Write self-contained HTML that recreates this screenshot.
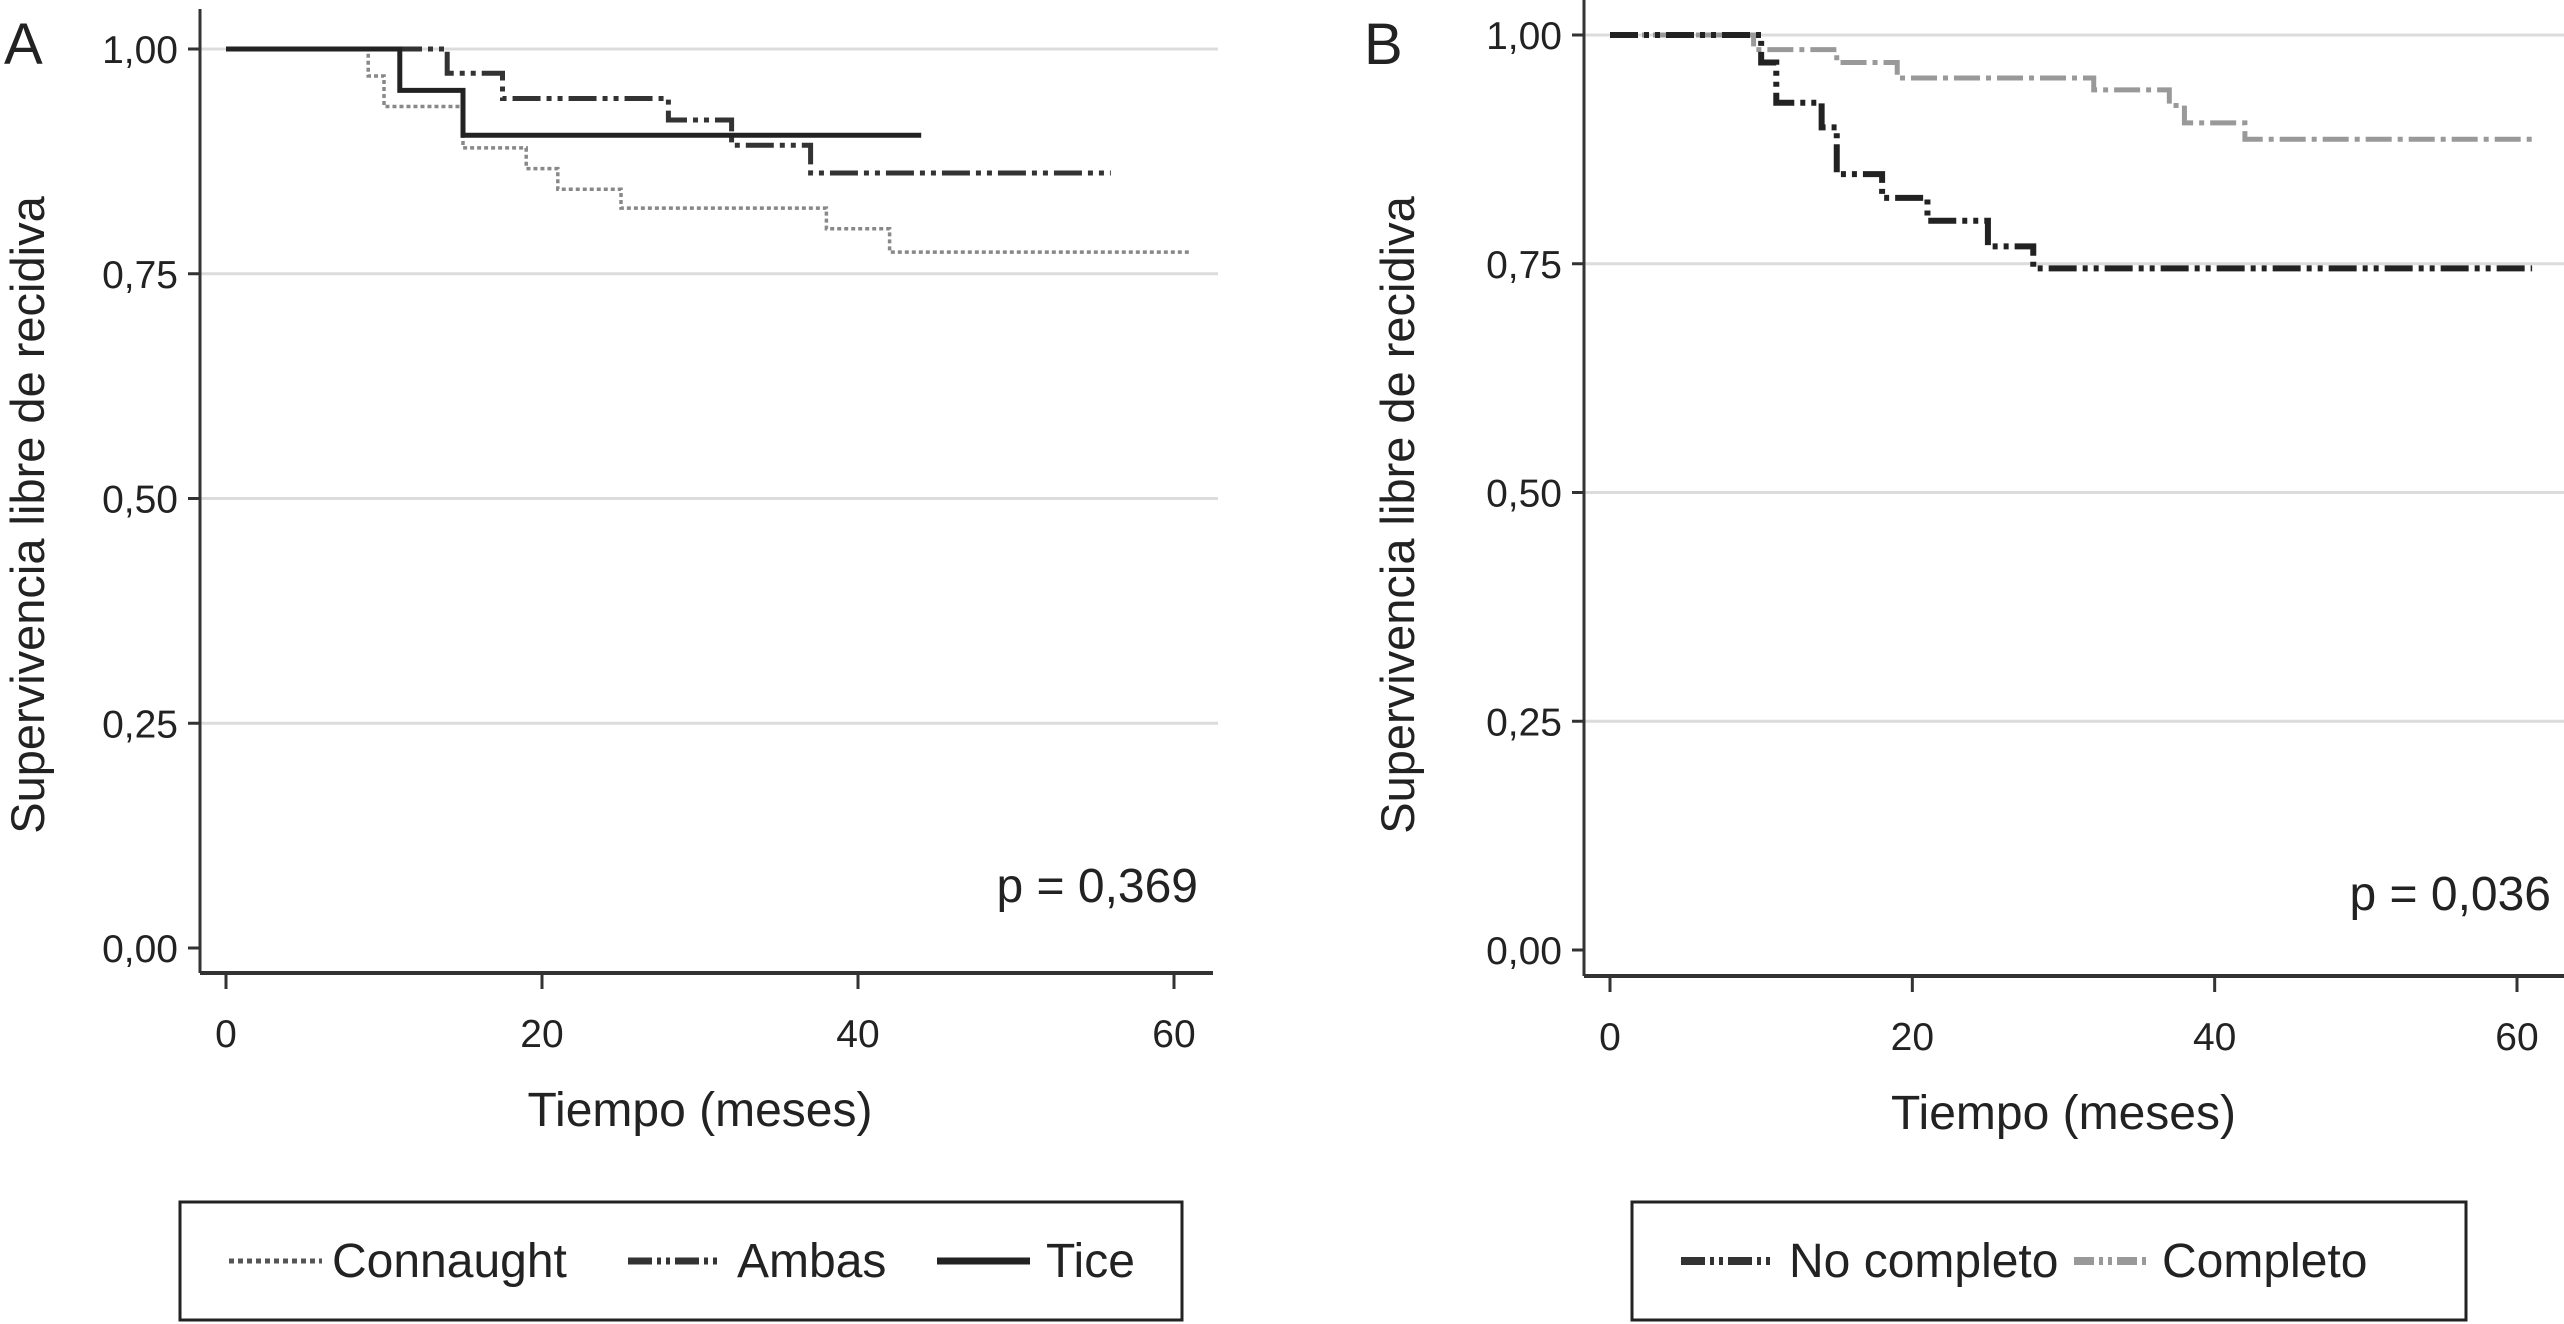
<!DOCTYPE html>
<html><head><meta charset="utf-8"><style>
body{margin:0;background:#fff}
svg{display:block;font-family:"Liberation Sans",sans-serif}
</style></head><body>
<svg id="chart" width="2564" height="1324" viewBox="0 0 2564 1324"></svg>
<script>
// Panel A data
const aTiceT=[0,11,15,44];
const aTiceS=[1,0.954,0.904,0.904];
const aAmbasT=[0,14,17.5,28,32,37,56];
const aAmbasS=[1,0.973,0.945,0.921,0.893,0.862,0.862];
const aConnT=[0,9,10,15,19,21,25,38,42,61];
const aConnS=[1,0.97,0.936,0.89,0.867,0.844,0.823,0.80,0.774,0.774];
// Panel B data
const bNoT=[0,10,11,14,15,18,21,25,28,61];
const bNoS=[1,0.97,0.926,0.899,0.848,0.822,0.797,0.769,0.745,0.745];
const bCompT=[0,9.5,15,19,32,37,38,42,61];
const bCompS=[1,0.984,0.97,0.953,0.94,0.923,0.904,0.886,0.886];
const xTicks=[0,20,40,60];
const yTicks=[0,0.25,0.5,0.75,1];
const yTickLabels=["0,00","0,25","0,50","0,75","1,00"];

const NS="http://www.w3.org/2000/svg";
const svg=document.getElementById('chart');
function el(tag,attrs,parent){const e=document.createElementNS(NS,tag);for(const k in attrs)e.setAttribute(k,attrs[k]);(parent||svg).appendChild(e);return e;}
function txt(s,attrs,parent){const t=el('text',attrs,parent);t.textContent=s;return t;}

function panel(cfg){
  const g=el('g',{});
  
  
  const X=v=>cfg.x0+(cfg.x60-cfg.x0)*v/60;
  const Y=v=>cfg.y0+(cfg.y1-cfg.y0)*v;
  yTicks.forEach((v,i)=>{
    if(v>0){const gl=el('line',{x1:cfg.ax,x2:cfg.gridEnd,y1:Y(v),y2:Y(v),stroke:'#dcdcdc','stroke-width':3},g);
    
    }
    el('line',{x1:cfg.ax-12,x2:cfg.ax,y1:Y(v),y2:Y(v),stroke:'#333','stroke-width':3},g);
    const t=txt(yTickLabels[i],{x:cfg.ax-22,y:Y(v)+14,'text-anchor':'end','font-size':39,fill:'#222'},g);
    
    
  });
  el('line',{x1:cfg.ax,x2:cfg.ax,y1:cfg.y1-40,y2:cfg.axY,stroke:'#333','stroke-width':3},g);
  el('line',{x1:cfg.ax,x2:cfg.axEnd,y1:cfg.axY,y2:cfg.axY,stroke:'#333','stroke-width':4},g);
  xTicks.forEach(v=>{
    el('line',{x1:X(v),x2:X(v),y1:cfg.axY,y2:cfg.axY+16,stroke:'#333','stroke-width':3},g);
    const t=txt(String(v),{x:X(v),y:cfg.axY+74,'text-anchor':'middle','font-size':39,fill:'#222'},g);
    
    
  });
  const xt=txt('Tiempo (meses)',{x:(cfg.x0+cfg.x60)/2,y:cfg.axY+153,'text-anchor':'middle','font-size':48,fill:'#222'},g);
  
  
  const yt=txt('Supervivencia libre de recidiva',{x:0,y:0,'text-anchor':'middle','font-size':47,fill:'#222',transform:`translate(${cfg.ytx},515) rotate(-90)`},g);
  
  
  const pl=txt(cfg.label,{x:cfg.labX,y:64,'font-size':58,fill:'#222'},g);
  
  
  const pv=txt(cfg.p,{x:cfg.pX,y:cfg.pY,'text-anchor':'end','font-size':48,fill:'#222'},g);
  
  
  cfg.series.forEach(s=>{
    let d=`M${X(s.t[0])},${Y(s.s[0])}`;
    for(let i=1;i<s.t.length;i++){d+=` H${X(s.t[i])} V${Y(s.s[i])}`;}
    const p=el('path',{d:d,fill:'none',stroke:s.color,'stroke-width':s.w,'stroke-dasharray':s.dash},g);
    
    
  });
  const lb=el('rect',{x:cfg.leg[0],y:1202,width:cfg.leg[1]-cfg.leg[0],height:118,fill:'none',stroke:'#222','stroke-width':3},g);
  
  
  cfg.legItems.forEach(it=>{
    const lg=el('g',{},g);
    
    
    el('line',{x1:it.lx,x2:it.lx+it.len,y1:1261,y2:1261,stroke:it.color,'stroke-width':it.w,'stroke-dasharray':it.dash},lg);
    txt(it.text,{x:it.tx,y:1277,'font-size':48,fill:'#222'},lg);
  });
}

panel({name:'panel-a',label:'A',labX:4,x0:226,x60:1174,y0:948,y1:49,ax:200,axY:973,axEnd:1213,gridEnd:1218,ytx:44,
  p:'p = 0,369',pX:1198,pY:902,leg:[180,1182],
  series:[
    {name:'connaught-curve',t:aConnT,s:aConnS,color:'#888',w:3.5,dash:'4 3'},
    {name:'ambas-curve',t:aAmbasT,s:aAmbasS,color:'#333',w:5,dash:'28 6 5 6 5 6'},
    {name:'tice-curve',t:aTiceT,s:aTiceS,color:'#222',w:5,dash:'none'}],
  legItems:[
    {lx:229,len:93,tx:332,text:'Connaught',color:'#555',w:5,dash:'5 4'},
    {lx:628,len:93,tx:737,text:'Ambas',color:'#333',w:7,dash:'24 5 4 5 4 5'},
    {lx:937,len:93,tx:1046,text:'Tice',color:'#222',w:7,dash:'none'}]
});
panel({name:'panel-b',label:'B',labX:1364,x0:1610,x60:2517,y0:950,y1:35,ax:1584,axY:976,axEnd:2564,gridEnd:2564,ytx:1414,
  p:'p = 0,036',pX:2551,pY:910,leg:[1632,2466],
  series:[
    {name:'completo-curve',t:bCompT,s:bCompS,color:'#999',w:5,dash:'26 6 5 6'},
    {name:'no-completo-curve',t:bNoT,s:bNoS,color:'#222',w:6,dash:'28 6 5 6 5 6'}],
  legItems:[
    {lx:1681,len:90,tx:1789,text:'No completo',color:'#333',w:8,dash:'24 5 4 5 4 5'},
    {lx:2074,len:76,tx:2162,text:'Completo',color:'#999',w:8,dash:'20 5 4 5 4 5'}]
});
</script>
</body></html>
